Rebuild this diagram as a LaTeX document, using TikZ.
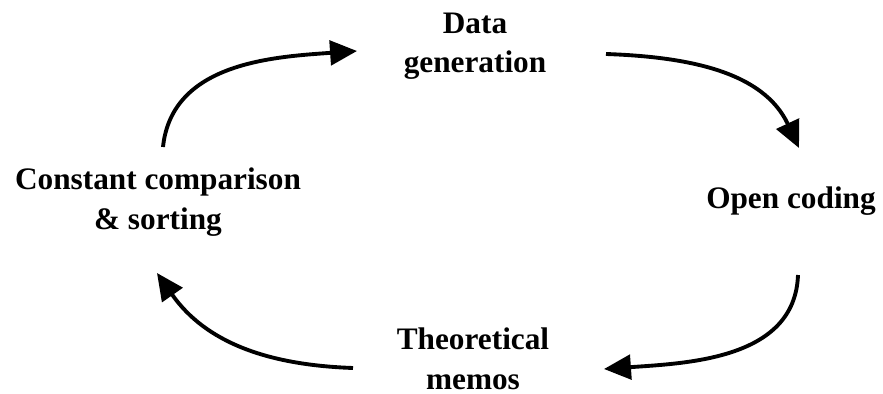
\documentclass[tikz,border=0pt]{standalone}
\usepackage{fontspec}
\setmainfont{Liberation Serif}
\usetikzlibrary{arrows.meta}

\begin{document}
\begin{tikzpicture}[x=0.03cm, y=-0.03cm, >={Triangle[length=23pt,width=21pt]},
    stage/.style={anchor=base, align=center, inner sep=0pt,
        font=\bfseries\fontsize{26.7}{34}\selectfont},
    cycle/.style={->, line width=3.3pt}]
    \useasboundingbox (0,0) rectangle (883,394);

    % 各个阶段
    \node[stage] (gen) at (475,73) {Data\\generation};
    \node[stage] (open) at (791,208) {Open coding};
    \node[stage] (memo) at (473,389) {Theoretical\\memos};
    \node[stage] (comp) at (158,229) {Constant comparison\\\& sorting};

    % 箭头端点
    \coordinate (a1) at (163,147); \coordinate (b1) at (357,51);
    \coordinate (a2) at (606,54);  \coordinate (b2) at (799,148);
    \coordinate (a3) at (798,275); \coordinate (b3) at (604,369);
    \coordinate (a4) at (353,368); \coordinate (b4) at (157,273);

    % 循环箭头
    \draw[cycle] (a1) to[out=84, in=184] (b1);
    \draw[cycle] (a2) to[out=-2, in=115] (b2);
    \draw[cycle] (a3) to[out=-92, in=4] (b3);
    \draw[cycle] (a4) to[out=178, in=-55] (b4);
\end{tikzpicture}
\end{document}
